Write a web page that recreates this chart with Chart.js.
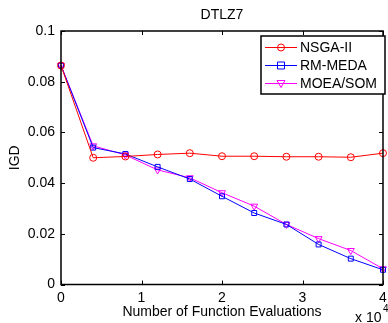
<!DOCTYPE html>
<html>
<head>
<meta charset="utf-8">
<script src="https://cdn.jsdelivr.net/npm/chart.js@4/dist/chart.umd.min.js"></script>
<style>
html,body{margin:0;padding:0;background:#fff;}
#wrap{width:388px;height:323px;position:relative;}
</style>
</head>
<body>
<div id="wrap"><canvas id="c" width="388" height="323"></canvas></div>
<script>
// Data (x in units of 10^4 function evaluations)
const evaluations = [0, 0.4, 0.8, 1.2, 1.6, 2.0, 2.4, 2.8, 3.2, 3.6, 4.0];
const nsga2 =   [0.0864, 0.0500, 0.0505, 0.0513, 0.0518, 0.0506, 0.0506, 0.0504, 0.0504, 0.0502, 0.0518];
const rmmeda =  [0.0864, 0.0540, 0.0515, 0.0464, 0.0416, 0.0348, 0.0282, 0.0237, 0.0158, 0.0102, 0.0058];
const moeasom = [0.0864, 0.0547, 0.0511, 0.0452, 0.0421, 0.0362, 0.0309, 0.0237, 0.0181, 0.0134, 0.0062];
const seriesNames = ['NSGA-II', 'RM-MEDA', 'MOEA/SOM'];
const xTicks = [0, 1, 2, 3, 4];
const yTicks = [0, 0.02, 0.04, 0.06, 0.08, 0.1];
const titleText = 'DTLZ7';
const xTitle = 'Number of Function Evaluations';
const yTitle = 'IGD';

const FONT = '"Liberation Sans", Arial, Helvetica, sans-serif';
const colors = ['#ff0000', '#0000ff', '#ff00ff'];
const markers = ['circle', 'rect', 'triangle'];
const allSeries = [nsga2, rmmeda, moeasom];

function pts(arr){ return evaluations.map((x,i)=>({x:x, y:arr[i]})); }

const datasets = allSeries.map((s,i)=>({
  label: seriesNames[i],
  data: pts(s),
  borderColor: colors[i],
  backgroundColor: 'rgba(0,0,0,0)',
  borderWidth: 1,
  pointStyle: markers[i],
  pointRotation: i === 2 ? 180 : 0,
  pointRadius: i === 1 ? 3.5 : (i === 2 ? 4 : 3.5),
  pointBorderWidth: 1,
  pointBorderColor: colors[i],
  pointBackgroundColor: 'rgba(0,0,0,0)',
  tension: 0,
  clip: false
}));

function drawMarker(ctx, style, x, y, color){
  ctx.save();
  ctx.strokeStyle = color; ctx.lineWidth = 1;
  ctx.beginPath();
  if (style === 'circle'){ ctx.arc(x, y, 3.5, 0, Math.PI*2); }
  else if (style === 'rect'){ ctx.rect(x-3.5, y-3.5, 7, 7); }
  else { ctx.moveTo(x-4, y-3); ctx.lineTo(x+4, y-3); ctx.lineTo(x, y+4); ctx.closePath(); }
  ctx.stroke();
  ctx.restore();
}

const decor = {
  id: 'decor',
  afterDraw(chart){
    const ctx = chart.ctx;
    const a = chart.chartArea;
    const xs = chart.scales.x, ys = chart.scales.y;
    ctx.save();
    // frame
    ctx.strokeStyle = '#000'; ctx.lineWidth = 1.5;
    ctx.strokeRect(a.left, a.top, a.right - a.left, a.bottom - a.top);
    // inward ticks on all sides
    ctx.lineWidth = 1;
    const tl = 4;
    xTicks.forEach(v=>{
      const px = Math.round(xs.getPixelForValue(v)) + 0.5;
      ctx.beginPath();
      ctx.moveTo(px, a.bottom); ctx.lineTo(px, a.bottom - tl);
      ctx.moveTo(px, a.top); ctx.lineTo(px, a.top + tl);
      ctx.stroke();
    });
    yTicks.forEach(v=>{
      const py = Math.round(ys.getPixelForValue(v)) + 0.5;
      ctx.beginPath();
      ctx.moveTo(a.left, py); ctx.lineTo(a.left + tl, py);
      ctx.moveTo(a.right, py); ctx.lineTo(a.right - tl, py);
      ctx.stroke();
    });
    // texts
    ctx.fillStyle = '#000';
    ctx.font = '14px ' + FONT;
    ctx.textAlign = 'center'; ctx.textBaseline = 'middle';
    ctx.fillText(titleText, (a.left + a.right)/2, 15);
    ctx.fillText(xTitle, 222, 312);
    ctx.save();
    ctx.translate(15, (a.top + a.bottom)/2);
    ctx.rotate(-Math.PI/2);
    ctx.fillText(yTitle, 0, 0);
    ctx.restore();
    ctx.textAlign = 'left';
    ctx.fillText('x 10', 355, 318);
    ctx.font = '10px ' + FONT;
    ctx.fillText('4', 383, 309);
    // legend
    const lx = 261, ly = 36, lw = 124, lh = 58;
    ctx.fillStyle = '#fff';
    ctx.fillRect(lx, ly, lw, lh);
    ctx.strokeStyle = '#000'; ctx.lineWidth = 1.5;
    ctx.strokeRect(lx, ly, lw, lh);
    const rows = [47, 65, 83];
    seriesNames.forEach((name,i)=>{
      const y = rows[i];
      ctx.strokeStyle = colors[i]; ctx.lineWidth = 1;
      ctx.beginPath(); ctx.moveTo(265, y + 0.5); ctx.lineTo(297, y + 0.5); ctx.stroke();
      drawMarker(ctx, markers[i], 281, y + 0.5, colors[i]);
      ctx.fillStyle = '#000';
      ctx.font = '14px ' + FONT;
      ctx.textAlign = 'left'; ctx.textBaseline = 'middle';
      ctx.fillText(name, 300, y + 1);
    });
    ctx.restore();
  }
};

new Chart(document.getElementById('c'), {
  type: 'line',
  data: { datasets },
  options: {
    responsive: false,
    animation: false,
    events: [],
    layout: { padding: { left: 0, top: 31, right: 2.5, bottom: 0 } },
    plugins: { legend: { display: false }, title: { display: false }, tooltip: { enabled: false } },
    scales: {
      x: {
        type: 'linear', min: 0, max: 4,
        afterFit: s => { s.height = 38.5; s.paddingLeft = 0; s.paddingRight = 0; },
        afterBuildTicks: s => { s.ticks = xTicks.map(v=>({value:v})); },
        grid: { display: false, drawTicks: false },
        border: { display: false },
        ticks: { padding: 5, color: '#000', font: { family: FONT, size: 14 }, maxRotation: 0, autoSkip: false,
                 callback: v => String(v) }
      },
      y: {
        type: 'linear', min: 0, max: 0.1,
        afterFit: s => { s.width = 61; s.paddingTop = 0; s.paddingBottom = 0; },
        afterBuildTicks: s => { s.ticks = yTicks.map(v=>({value:v})); },
        grid: { display: false, drawTicks: false },
        border: { display: false },
        ticks: { padding: 6, color: '#000', font: { family: FONT, size: 14 }, autoSkip: false,
                 callback: v => String(+v.toFixed(2)) }
      }
    }
  },
  plugins: [decor]
});
</script>
</body>
</html>
